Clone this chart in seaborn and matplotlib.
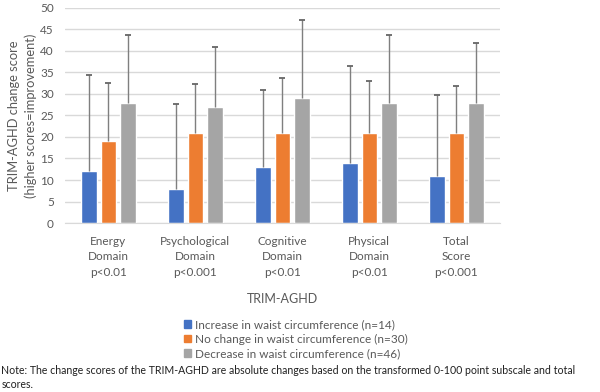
import matplotlib
matplotlib.use("Agg")
import matplotlib.pyplot as plt
import seaborn as sns
import pandas as pd

domains = ["Energy\nDomain\np<0.01", "Psychological\nDomain\np<0.001", "Cognitive\nDomain\np<0.01",
           "Physical\nDomain\np<0.01", "Total\nScore\np<0.001"]
groups = ["Increase in waist circumference (n=14)",
          "No change in waist circumference (n=30)",
          "Decrease in waist circumference (n=46)"]
increase = [12, 8, 13, 14, 11]
no_change = [19, 21, 21, 21, 21]
decrease = [28, 27, 29, 28, 28]
# upper end of the error bars
increase_top = [34.5, 27.7, 31, 36.6, 29.8]
no_change_top = [32.5, 32.2, 33.7, 33, 31.9]
decrease_top = [43.6, 41, 47.1, 43.6, 41.8]

colors = ["#4472C4", "#ED7D31", "#A5A5A5"]

rows = []
for g, vals in zip(groups, [increase, no_change, decrease]):
    for d, v in zip(domains, vals):
        rows.append({"domain": d, "group": g, "score": v})
df = pd.DataFrame(rows)

sns.set_style("white")
plt.rcParams['font.family'] = ['Lato', 'DejaVu Sans']

fig = plt.figure(figsize=(6, 3.92), dpi=100)
ax = fig.add_axes([0.108, 0.431, 0.725, 0.549])

sns.barplot(data=df, x="domain", y="score", hue="group", palette=colors,
            width=0.67, gap=0.2, errorbar=None, ax=ax, legend=False,
            saturation=1, zorder=2)

tops = [increase_top, no_change_top, decrease_top]
for cont, top in zip(ax.containers, tops):
    for bar, t in zip(cont, top):
        cx = bar.get_x() + bar.get_width() / 2
        h = bar.get_height()
        ax.vlines(cx, h, t, color="#7F7F7F", lw=1, zorder=3)
        ax.plot(cx, t, marker="_", ms=5, mew=1.2, color="#595959", zorder=3)

ax.set_ylim(0, 50)
ax.set_yticks(range(0, 51, 5))
ax.set_xlim(-0.5, 4.5)
ax.yaxis.grid(True, color="#D9D9D9", lw=1, zorder=0)
ax.set_axisbelow(True)
for s in ["top", "right", "left"]:
    ax.spines[s].set_visible(False)
ax.spines["bottom"].set_color("#D9D9D9")
ax.tick_params(axis="y", length=0, labelsize=8.5, colors="#595959", pad=8)
ax.tick_params(axis="x", length=0, labelsize=8.5, colors="#595959", pad=9)
for lab in ax.get_xticklabels():
    lab.set_linespacing(1.5)
ax.set_xlabel("TRIM-AGHD", fontsize=9, color="#595959", labelpad=11)
ax.set_ylabel("TRIM-AGHD change score\n(higher scores=improvement)", fontsize=9.3,
              color="#595959", linespacing=1.4)
ax.yaxis.set_label_coords(-0.065, 0.5)

handles = [plt.Rectangle((0, 0), 1, 1, color=c) for c in colors]
fig.legend(handles, groups, loc="upper left", bbox_to_anchor=(0.307, 0.186),
           frameon=False, fontsize=8.5, handlelength=0.6, handleheight=0.6,
           handletextpad=0.3, labelspacing=0.3, labelcolor="#595959",
           borderpad=0, borderaxespad=0)

fig.text(0.002, 0.005, "Note: The change scores of the TRIM-AGHD are absolute changes based on the transformed 0-100 point subscale and total\nscores.",
         fontsize=7.6, color="#202020", va="bottom", linespacing=1.35)

fig.savefig("out.png", dpi=100)
